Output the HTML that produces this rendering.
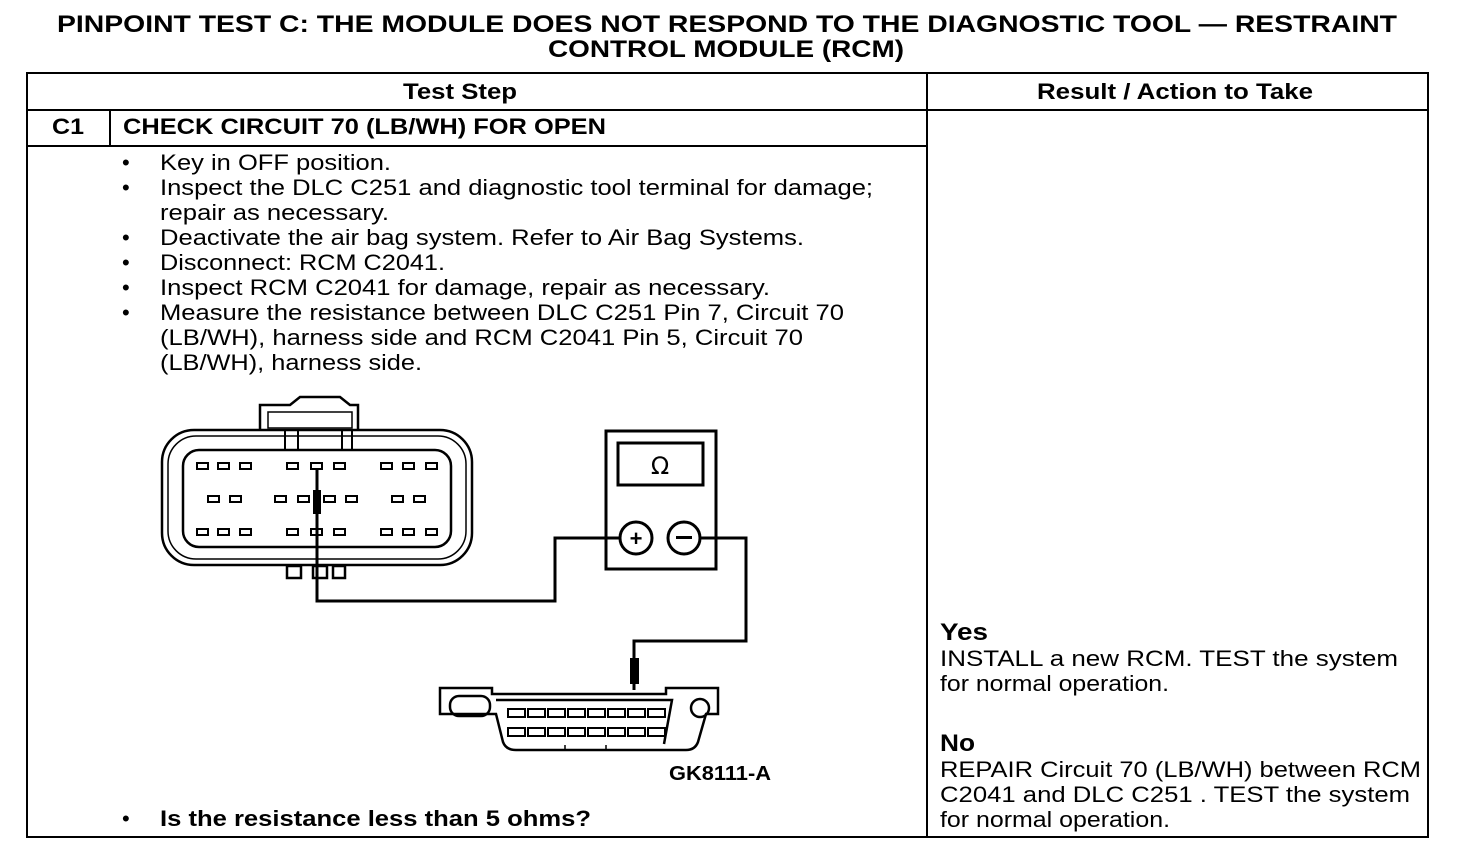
<!DOCTYPE html>
<html><head><style>html,body{margin:0;padding:0;background:#fff}svg{display:block}</style></head><body>
<svg width="1472" height="852" viewBox="0 0 1472 852" xmlns="http://www.w3.org/2000/svg" font-family="Liberation Sans, Arial, sans-serif">
<g font-weight="bold" font-size="24">
<text x="57" y="32" textLength="1340" lengthAdjust="spacingAndGlyphs">PINPOINT TEST  C: THE MODULE DOES NOT RESPOND TO THE DIAGNOSTIC TOOL — RESTRAINT</text>
<text x="548" y="57" textLength="356" lengthAdjust="spacingAndGlyphs">CONTROL MODULE (RCM)</text>
</g>
<g stroke="#000" stroke-width="2" fill="none">
<rect x="27" y="73" width="1401" height="764"/>
<line x1="927" y1="73" x2="927" y2="837"/>
<line x1="27" y1="110" x2="1428" y2="110"/>
<line x1="27" y1="146" x2="927" y2="146"/>
<line x1="110" y1="110" x2="110" y2="146"/>
</g>
<g font-weight="bold" font-size="22" lengthAdjust="spacingAndGlyphs">
<text x="403" y="99" textLength="114" lengthAdjust="spacingAndGlyphs">Test Step</text>
<text x="1037" y="99" textLength="276" lengthAdjust="spacingAndGlyphs">Result / Action to Take</text>
<text x="52" y="134" textLength="32" lengthAdjust="spacingAndGlyphs">C1</text>
<text x="123" y="134" textLength="483" lengthAdjust="spacingAndGlyphs">CHECK CIRCUIT 70 (LB/WH) FOR OPEN</text>
</g>
<g font-size="22">
<text x="122" y="170">•</text><text x="160" y="170" textLength="231" lengthAdjust="spacingAndGlyphs">Key in OFF position.</text>
<text x="122" y="195">•</text><text x="160" y="195" textLength="713" lengthAdjust="spacingAndGlyphs">Inspect the DLC C251 and diagnostic tool terminal for damage;</text>
<text x="160" y="220" textLength="229" lengthAdjust="spacingAndGlyphs">repair as necessary.</text>
<text x="122" y="245">•</text><text x="160" y="245" textLength="644" lengthAdjust="spacingAndGlyphs">Deactivate the air bag system. Refer to Air Bag Systems.</text>
<text x="122" y="270">•</text><text x="160" y="270" textLength="285" lengthAdjust="spacingAndGlyphs">Disconnect: RCM C2041.</text>
<text x="122" y="295">•</text><text x="160" y="295" textLength="610" lengthAdjust="spacingAndGlyphs">Inspect RCM C2041 for damage, repair as necessary.</text>
<text x="122" y="320">•</text><text x="160" y="320" textLength="684" lengthAdjust="spacingAndGlyphs">Measure the resistance between DLC C251 Pin 7, Circuit 70</text>
<text x="160" y="345" textLength="643" lengthAdjust="spacingAndGlyphs">(LB/WH), harness side and RCM C2041 Pin 5, Circuit 70</text>
<text x="160" y="370" textLength="262" lengthAdjust="spacingAndGlyphs">(LB/WH), harness side.</text>
<text x="122" y="826">•</text><text x="160" y="826" font-weight="bold" textLength="431" lengthAdjust="spacingAndGlyphs">Is the resistance less than 5 ohms?</text>
<text x="940" y="640" font-weight="bold" font-size="24" textLength="48" lengthAdjust="spacingAndGlyphs">Yes</text>
<text x="940" y="666" textLength="458" lengthAdjust="spacingAndGlyphs">INSTALL a new RCM. TEST the system</text>
<text x="940" y="691" textLength="229" lengthAdjust="spacingAndGlyphs">for normal operation.</text>
<text x="940" y="751" font-weight="bold" font-size="24" textLength="35" lengthAdjust="spacingAndGlyphs">No</text>
<text x="940" y="777" textLength="481" lengthAdjust="spacingAndGlyphs">REPAIR Circuit 70 (LB/WH) between RCM</text>
<text x="940" y="802" textLength="470" lengthAdjust="spacingAndGlyphs">C2041 and DLC C251 . TEST the system</text>
<text x="940" y="827" textLength="230" lengthAdjust="spacingAndGlyphs">for normal operation.</text>
<text x="669" y="780" font-weight="bold" font-size="20" textLength="102" lengthAdjust="spacingAndGlyphs">GK8111-A</text>
</g>
<!-- RCM connector -->
<g stroke="#000" fill="none" stroke-width="2.5">
<path d="M260 430 V405 H290 L300 397 H340 L350 405 H358 V430"/>
<rect x="162" y="430" width="310" height="135" rx="32"/>
<rect x="168" y="436" width="298" height="123" rx="28" stroke-width="1.5"/>
<rect x="183" y="450" width="268" height="97" rx="16"/>
<rect x="268" y="412" width="84" height="16" stroke-width="1.5"/>
<path d="M285 430 V450 M298 430 V450 M342 430 V450 M352 430 V450" stroke-width="2"/>
<rect x="287" y="566" width="14" height="12"/><rect x="313" y="566" width="14" height="12"/><rect x="333" y="566" width="12" height="12"/>
</g>
<g stroke="#000" stroke-width="2" fill="none">
<rect x="197" y="463" width="11" height="6"/><rect x="218" y="463" width="11" height="6"/><rect x="240" y="463" width="11" height="6"/>
<rect x="287" y="463" width="11" height="6"/><rect x="311" y="463" width="11" height="6"/><rect x="334" y="463" width="11" height="6"/>
<rect x="381" y="463" width="11" height="6"/><rect x="403" y="463" width="11" height="6"/><rect x="426" y="463" width="11" height="6"/>
<rect x="208" y="496" width="11" height="6"/><rect x="230" y="496" width="11" height="6"/>
<rect x="275" y="496" width="11" height="6"/><rect x="298" y="496" width="11" height="6"/><rect x="324" y="496" width="11" height="6"/><rect x="346" y="496" width="11" height="6"/>
<rect x="392" y="496" width="11" height="6"/><rect x="414" y="496" width="11" height="6"/>
<rect x="197" y="529" width="11" height="6"/><rect x="218" y="529" width="11" height="6"/><rect x="240" y="529" width="11" height="6"/>
<rect x="287" y="529" width="11" height="6"/><rect x="311" y="529" width="11" height="6"/><rect x="334" y="529" width="11" height="6"/>
<rect x="381" y="529" width="11" height="6"/><rect x="403" y="529" width="11" height="6"/><rect x="426" y="529" width="11" height="6"/>
</g>
<!-- probe & wires -->
<g stroke="#000" stroke-width="3" fill="none">
<path d="M317 470 V601 H555 V538 H620"/>
<path d="M700 538 H746 V641 H634 V690"/>
</g>
<rect x="313" y="490" width="8" height="24" fill="#000"/>
<rect x="630" y="658" width="9" height="26" fill="#000"/>
<!-- meter -->
<g stroke="#000" stroke-width="3" fill="none">
<rect x="606" y="431" width="110" height="138"/>
<rect x="618" y="443" width="85" height="42"/>
<circle cx="636" cy="538" r="16"/><circle cx="684" cy="538" r="16"/>
</g>
<text x="660" y="474" font-size="24" text-anchor="middle" font-family="DejaVu Sans, sans-serif">Ω</text>
<text x="636" y="546" font-size="22" font-weight="bold" text-anchor="middle">+</text>
<rect x="676" y="536" width="16" height="3" fill="#000"/>
<!-- DLC -->
<g stroke="#000" stroke-width="2.5" fill="none">
<path d="M440 688 H492 V694 H666 V688 H718 V714 H706 L698 742 Q695 750 686 750 H516 Q506 750 503 742 L496 714 H440 Z"/>
<rect x="450" y="696" width="40" height="20" rx="9"/>
<circle cx="700" cy="708" r="9"/>
<path d="M496 700 H672 L664 744"/>
<line x1="565" y1="745" x2="565" y2="750" stroke-width="1.5"/><line x1="606" y1="745" x2="606" y2="750" stroke-width="1.5"/>
</g>
<g stroke="#000" stroke-width="2" fill="none">
<rect x="508" y="709" width="17" height="8"/><rect x="528" y="709" width="17" height="8"/><rect x="548" y="709" width="17" height="8"/><rect x="568" y="709" width="17" height="8"/><rect x="588" y="709" width="17" height="8"/><rect x="608" y="709" width="17" height="8"/><rect x="628" y="709" width="17" height="8"/><rect x="648" y="709" width="17" height="8"/>
<rect x="508" y="728" width="17" height="8"/><rect x="528" y="728" width="17" height="8"/><rect x="548" y="728" width="17" height="8"/><rect x="568" y="728" width="17" height="8"/><rect x="588" y="728" width="17" height="8"/><rect x="608" y="728" width="17" height="8"/><rect x="628" y="728" width="17" height="8"/><rect x="648" y="728" width="17" height="8"/>
</g>
</svg>
</body></html>
